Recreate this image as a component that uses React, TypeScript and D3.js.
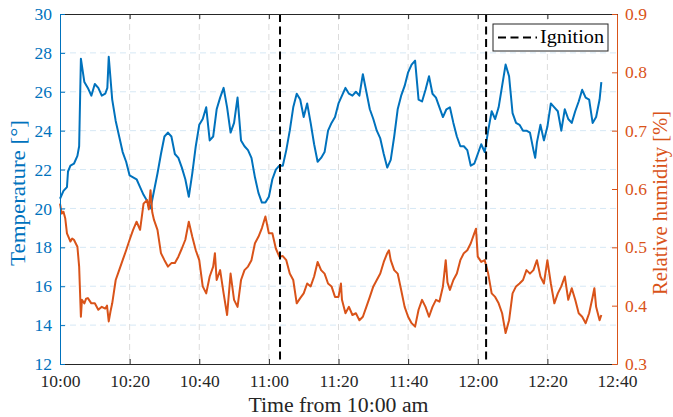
import React, { useEffect, useRef } from "react";
import * as d3 from "d3";

// minutes after 10:00 am
const tempMinutes = [
  0, 1, 2, 2.3, 3, 4, 5, 5.5, 6, 7, 8, 9, 10, 11, 12, 13, 13.6, 14, 15, 16, 17, 18, 19, 20,
  21, 22, 23, 24, 25, 26, 27, 28, 29, 30, 31, 32, 33, 34, 35, 36, 37, 38, 39, 40, 41, 42,
  43, 44, 45, 46, 47, 48, 49, 50, 51, 52, 53, 54, 55, 56, 57, 58, 59, 60, 61, 62, 63, 64,
  65, 66, 67, 68, 69, 70, 71, 72, 73, 74, 75, 76, 77, 78, 79, 80, 81, 82, 83, 84, 85, 86,
  87, 88, 89, 90, 91, 92, 93, 94, 95, 96, 97, 98, 99, 100, 101, 102, 103, 104, 105, 106,
  107, 108, 109, 110, 111, 112, 113, 114, 115, 116, 117, 118, 119, 120, 121, 122, 123, 124,
  125, 126, 127, 128, 129, 130, 131, 132, 133, 134, 135, 136, 136.5, 137, 138, 139, 140, 141,
  142, 143, 144, 145, 146, 147, 148, 149, 150, 151, 152, 153, 154, 155, 155.5,
];
const tempValues = [
  20.5, 20.9, 21.1, 21.9, 22.2, 22.3, 22.7, 23.2, 27.7, 26.5, 26.2, 25.8, 26.4, 26.2, 25.8, 25.9, 26.2, 27.8, 25.6, 24.5, 23.7, 22.9, 22.4, 21.7,
  21.6, 21.5, 21.1, 20.7, 20.4, 20.0, 20.9, 21.8, 22.8, 23.7, 23.9, 23.7, 22.8, 22.6, 22.1, 21.5, 20.6, 21.8, 23.2, 24.3, 24.6, 25.2,
  23.5, 23.7, 25.1, 25.7, 26.2, 25.2, 23.9, 24.4, 25.7, 23.5, 23.2, 23.0, 22.6, 21.6, 20.8, 20.3, 20.3, 20.6, 21.5, 22.0, 22.2, 22.2,
  23.0, 24.0, 25.2, 25.9, 25.6, 24.7, 25.4, 24.4, 23.3, 22.4, 22.6, 22.9, 24.0, 24.4, 24.7, 25.4, 25.8, 26.2, 25.9, 25.8, 26.0, 25.8,
  26.9, 26.0, 25.1, 24.6, 24.0, 23.6, 22.8, 22.1, 22.5, 23.7, 25.1, 25.8, 26.3, 27.0, 27.4, 27.6, 25.6, 25.5, 26.1, 26.8,
  25.9, 25.7, 25.2, 24.7, 25.1, 25.2, 24.4, 23.7, 23.2, 23.2, 23.0, 22.2, 22.3, 22.8, 23.3, 22.9, 24.0, 25.0,
  24.6, 25.2, 26.3, 27.4, 26.8, 24.9, 24.4, 24.3, 24.0, 24.0, 23.9, 23.0, 22.6, 23.4, 24.3, 23.5, 24.2, 25.4,
  25.2, 25.0, 24.0, 25.1, 24.6, 24.4, 25.0, 25.5, 26.1, 25.7, 25.6, 24.4, 24.7, 25.6, 26.5,
];

const humMinutes = [
  0, 0.5, 1, 1.5, 2, 3, 3.5, 4, 5, 5.5, 6, 6.3, 7, 7.5, 8, 9, 10, 11, 12, 13, 13.5, 14, 14.5, 15,
  16, 17, 18, 19, 20, 21, 22, 23, 24, 25, 25.5, 26, 26.5, 27, 28, 29, 30, 31, 32, 33, 34, 35,
  36, 37, 38, 39, 40, 41, 42, 43, 44, 44.5, 45, 46, 47, 48, 49, 50, 51, 52, 53, 54, 55, 56,
  57, 58, 59, 60, 61, 62, 63, 64, 65, 66, 67, 68, 69, 70, 71, 72, 73, 74, 75, 76, 77, 78,
  79, 80, 80.7, 81, 82, 83, 84, 85, 86, 87, 88, 89, 90, 91, 92, 93, 94, 94.5, 95, 96, 97,
  98, 99, 100, 101, 102, 103, 104, 105, 106, 107, 108, 109, 110, 110.8, 111.3, 112, 113, 114,
  115, 116, 117, 118, 119, 119.5, 120, 121, 122, 123, 124, 125, 126, 127, 128, 129, 130, 131,
  132, 133, 134, 135, 136, 137, 138, 139, 140, 141, 142, 143, 144, 145, 146, 147, 148, 149,
  150, 151, 152, 153, 153.5, 154, 155, 155.5,
];
const humValues = [
  0.575, 0.558, 0.561, 0.55, 0.524, 0.51, 0.515, 0.513, 0.501, 0.467, 0.381, 0.41, 0.404, 0.412, 0.413, 0.404, 0.404, 0.393, 0.398, 0.395, 0.4, 0.373, 0.39, 0.404,
  0.444, 0.461, 0.478, 0.495, 0.513, 0.53, 0.544, 0.53, 0.575, 0.581, 0.565, 0.598, 0.56, 0.547, 0.53, 0.49, 0.478, 0.467, 0.473, 0.473, 0.484, 0.498,
  0.513, 0.544, 0.518, 0.495, 0.478, 0.433, 0.421, 0.45, 0.467, 0.49, 0.444, 0.461, 0.421, 0.384, 0.455, 0.41, 0.398, 0.444, 0.461, 0.467, 0.478, 0.507,
  0.518, 0.533, 0.553, 0.524, 0.524, 0.498, 0.484, 0.485, 0.478, 0.455, 0.444, 0.404, 0.413, 0.421, 0.438, 0.433, 0.45, 0.475, 0.461, 0.455, 0.438, 0.433,
  0.415, 0.415, 0.438, 0.41, 0.387, 0.398, 0.384, 0.387, 0.375, 0.381, 0.398, 0.415, 0.433, 0.444, 0.455, 0.475, 0.49, 0.495, 0.478, 0.461, 0.455,
  0.427, 0.398, 0.381, 0.37, 0.364, 0.393, 0.41, 0.398, 0.381, 0.398, 0.41, 0.407, 0.433, 0.478, 0.44, 0.427, 0.444, 0.455,
  0.478, 0.49, 0.495, 0.507, 0.524, 0.532, 0.484, 0.475, 0.478, 0.455, 0.421, 0.415, 0.404, 0.387, 0.353, 0.375, 0.421, 0.433,
  0.438, 0.444, 0.461, 0.455, 0.461, 0.478, 0.45, 0.438, 0.478, 0.438, 0.404, 0.421, 0.433, 0.45, 0.41, 0.43, 0.41, 0.387,
  0.381, 0.37, 0.387, 0.415, 0.43, 0.398, 0.375, 0.384,
];

const timeTicks = [0, 20, 40, 60, 80, 100, 120, 140, 160];
const tempTicks = [12, 14, 16, 18, 20, 22, 24, 26, 28, 30];
const humTicks = [0.3, 0.4, 0.5, 0.6, 0.7, 0.8, 0.9];
const ignitionMinutes = [63.2, 122.4];

const BLUE = "#0072BD";
const ORANGE = "#D95319";
const DARK = "#262626";
const FONT = "'Liberation Serif', 'Times New Roman', serif";

function App() {
  const svgRef = useRef<SVGSVGElement>(null);

  useEffect(() => {
    const width = 673;
    const height = 417;
    const margin = { top: 14, right: 56, bottom: 53, left: 60 };
    const innerW = width - margin.left - margin.right;
    const innerH = height - margin.top - margin.bottom;

    const svg = d3.select(svgRef.current);
    svg.selectAll("*").remove();
    const g = svg.append("g").attr("transform", `translate(${margin.left},${margin.top})`);

    const xScale = d3.scaleLinear().domain([0, 160]).range([0, innerW]);
    const yTemp = d3.scaleLinear().domain([12, 30]).range([innerH, 0]);
    const yHum = d3.scaleLinear().domain([0.3, 0.9]).range([innerH, 0]);

    const fmtTime = (m: number) => {
      const h = 10 + Math.floor(m / 60);
      const mm = m % 60;
      return `${h}:${mm < 10 ? "0" + mm : mm}`;
    };

    // grid
    g.append("g")
      .selectAll("line")
      .data(timeTicks.slice(1, -1))
      .join("line")
      .attr("x1", d => xScale(d))
      .attr("x2", d => xScale(d))
      .attr("y1", 0)
      .attr("y2", innerH)
      .attr("stroke", "#dcdcdc")
      .attr("stroke-width", 1)
      .attr("stroke-dasharray", "6,4");
    g.append("g")
      .selectAll("line")
      .data(tempTicks.slice(1, -1))
      .join("line")
      .attr("x1", 0)
      .attr("x2", innerW)
      .attr("y1", d => yTemp(d))
      .attr("y2", d => yTemp(d))
      .attr("stroke", "#d6e8f5")
      .attr("stroke-width", 1)
      .attr("stroke-dasharray", "6,4");

    // lines
    const tempData = tempMinutes.map((m, i) => [m, tempValues[i]] as [number, number]);
    const humData = humMinutes.map((m, i) => [m, humValues[i]] as [number, number]);

    g.append("path")
      .datum(tempData)
      .attr("fill", "none")
      .attr("stroke", BLUE)
      .attr("stroke-width", 2)
      .attr("stroke-linejoin", "round")
      .attr("d", d3.line<[number, number]>().x(d => xScale(d[0])).y(d => yTemp(d[1])));

    g.append("path")
      .datum(humData)
      .attr("fill", "none")
      .attr("stroke", ORANGE)
      .attr("stroke-width", 2)
      .attr("stroke-linejoin", "round")
      .attr("d", d3.line<[number, number]>().x(d => xScale(d[0])).y(d => yHum(d[1])));

    // ignition
    g.append("g")
      .selectAll("line")
      .data(ignitionMinutes)
      .join("line")
      .attr("x1", d => xScale(d))
      .attr("x2", d => xScale(d))
      .attr("y1", 0)
      .attr("y2", innerH)
      .attr("stroke", "#000")
      .attr("stroke-width", 2)
      .attr("stroke-dasharray", "8,4.5");

    // axes
    const styleAxis = (sel: any, color: string) => {
      sel.selectAll("path").attr("stroke", color);
      sel.selectAll("line").attr("stroke", color);
      sel.selectAll("text").attr("fill", color).style("font-family", FONT).style("font-size", "17.5px");
    };

    const xAxis = g.append("g")
      .attr("transform", `translate(0,${innerH})`)
      .call(d3.axisBottom(xScale).tickValues(timeTicks).tickFormat(d => fmtTime(+d)).tickSize(-5).tickSizeOuter(0).tickPadding(11));
    styleAxis(xAxis, DARK);

    const topAxis = g.append("g")
      .call(d3.axisTop(xScale).tickValues(timeTicks).tickFormat(() => "").tickSize(-5).tickSizeOuter(0));
    styleAxis(topAxis, DARK);

    const leftAxis = g.append("g")
      .call(d3.axisLeft(yTemp).tickValues(tempTicks).tickSize(-5).tickSizeOuter(0).tickPadding(8));
    styleAxis(leftAxis, BLUE);

    const rightAxis = g.append("g")
      .attr("transform", `translate(${innerW},0)`)
      .call(d3.axisRight(yHum).tickValues(humTicks).tickFormat(d3.format(".1f")).tickSize(-5).tickSizeOuter(0).tickPadding(8));
    styleAxis(rightAxis, ORANGE);

    // axis titles
    g.append("text")
      .attr("x", innerW / 2)
      .attr("y", innerH + 48)
      .attr("text-anchor", "middle")
      .attr("fill", DARK)
      .attr("textLength", 180)
      .attr("lengthAdjust", "spacingAndGlyphs")
      .style("font-family", FONT)
      .style("font-size", "20px")
      .text("Time from 10:00 am");

    g.append("text")
      .attr("transform", `translate(${-35},${innerH / 2 + 4}) rotate(-90)`)
      .attr("text-anchor", "middle")
      .attr("fill", BLUE)
      .attr("textLength", 146)
      .attr("lengthAdjust", "spacingAndGlyphs")
      .style("font-family", FONT)
      .style("font-size", "20px")
      .text("Temperature [°]");

    g.append("text")
      .attr("transform", `translate(${innerW + 50},${innerH / 2 + 14}) rotate(-90)`)
      .attr("text-anchor", "middle")
      .attr("fill", ORANGE)
      .attr("textLength", 184)
      .attr("lengthAdjust", "spacingAndGlyphs")
      .style("font-family", FONT)
      .style("font-size", "20px")
      .text("Relative humidity [%]");

    // legend
    const legend = g.append("g").attr("transform", `translate(${innerW - 124},10)`);
    legend.append("rect")
      .attr("width", 115)
      .attr("height", 27)
      .attr("fill", "#fff")
      .attr("stroke", DARK)
      .attr("stroke-width", 1);
    legend.append("line")
      .attr("x1", 5)
      .attr("x2", 44)
      .attr("y1", 13.5)
      .attr("y2", 13.5)
      .attr("stroke", "#000")
      .attr("stroke-width", 2)
      .attr("stroke-dasharray", "8,4.5");
    legend.append("text")
      .attr("x", 47)
      .attr("y", 19)
      .attr("fill", "#000")
      .attr("textLength", 64)
      .attr("lengthAdjust", "spacingAndGlyphs")
      .style("font-family", FONT)
      .style("font-size", "18px")
      .text("Ignition");
  }, []);

  return (
    <svg
      ref={svgRef}
      width={673}
      height={417}
      style={{ position: "absolute", left: 0, top: 0, background: "#fff" }}
    />
  );
}

export default App;
